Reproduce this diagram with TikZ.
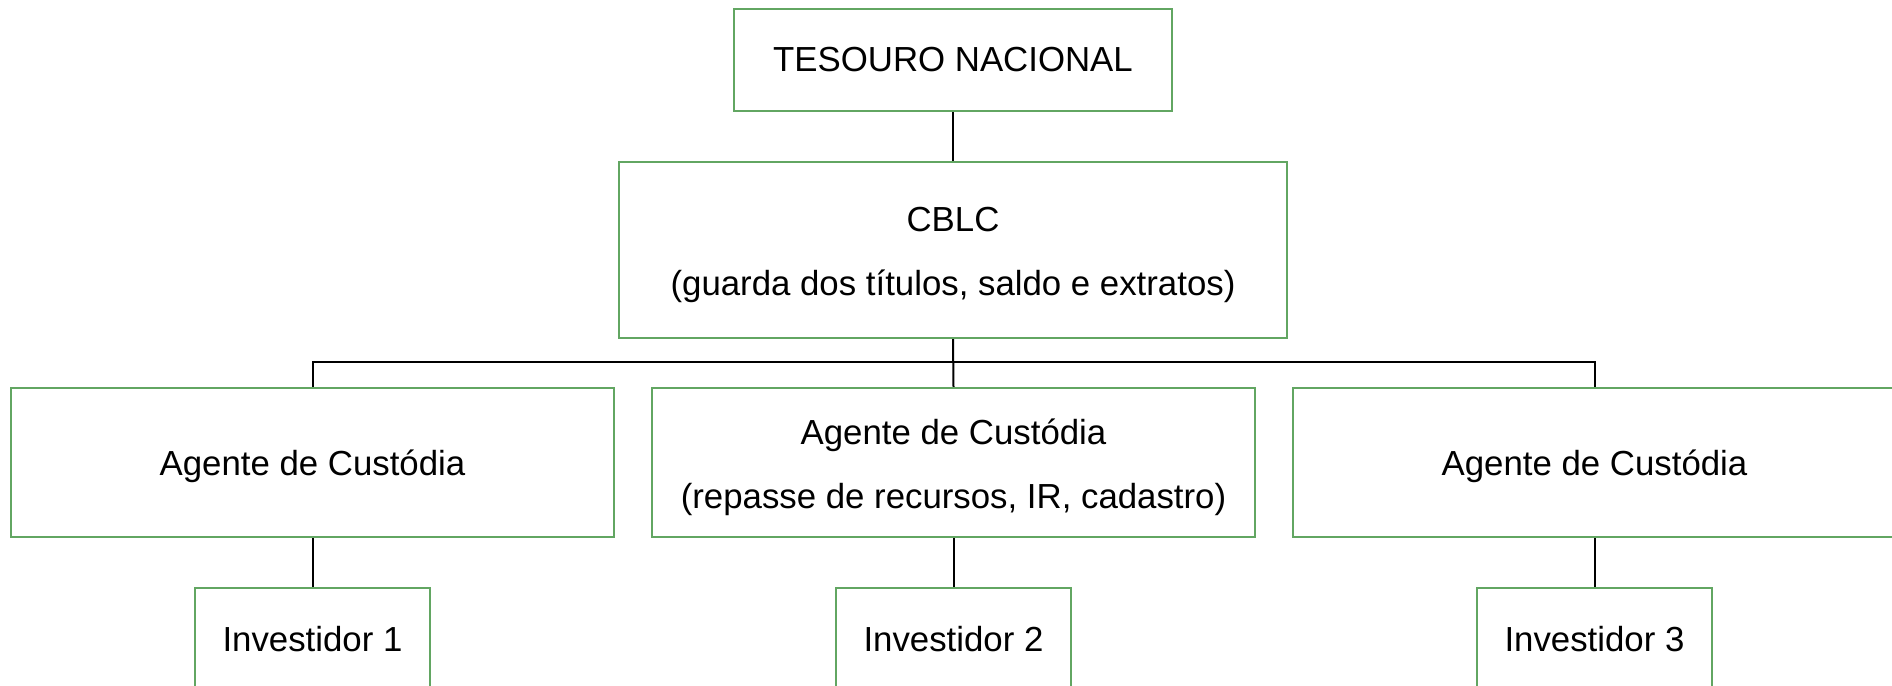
\documentclass[tikz,border=0pt]{standalone}
\usepackage{fontspec}
\setmainfont{Liberation Sans}
\definecolor{verdeborda}{RGB}{98,166,98}
\newcommand{\topo}{\rule{0pt}{1em}}

\begin{document}
\begin{tikzpicture}[x=0.5pt,y=-0.5pt,
  caixa/.style={draw=verdeborda,line width=1.2pt,inner sep=0pt,align=center,
    font=\fontsize{17.4}{32}\selectfont},
  linha/.style={text height=16.2pt,text depth=3.65pt},
  agente/.style={caixa,minimum width=301.5pt,minimum height=74.5pt},
  investidor/.style={caixa,minimum width=117.5pt,minimum height=51pt},
  liga/.style={black,line width=1pt}]

\useasboundingbox (0,0) rectangle (1892,686);
\clip (0,0) rectangle (1892,686);

\node [caixa,minimum width=219pt,minimum height=51pt] (tesouro) at (953,60) {TESOURO NACIONAL};
\node [caixa,minimum width=334pt,minimum height=88pt] (cblc) at (953,250) {\topo CBLC\\(guarda dos títulos, saldo e extratos)};

\node [agente,linha] (ag1) at (312.5,462.5) {Agente de Custódia};
\node [agente] (ag2) at (953.5,462.5) {\topo Agente de Custódia\\(repasse de recursos, IR, cadastro)};
\node [agente,linha] (ag3) at (1594.5,462.5) {Agente de Custódia};

\node [investidor] (inv1) at (312.5,639) {Investidor 1};
\node [investidor] (inv2) at (953.5,639) {Investidor 2};
\node [investidor] (inv3) at (1594.5,639) {Investidor 3};

\coordinate (barra) at (953.5,362);

\draw [liga] (tesouro.south) -- (cblc.north);
\draw [liga] (cblc.south) -- (ag2.north);
\draw [liga] (ag1.north) |- (barra) -| (ag3.north);

\draw [liga] (ag1.south) -- (inv1.north);
\draw [liga] (ag2.south) -- (inv2.north);
\draw [liga] (ag3.south) -- (inv3.north);

\end{tikzpicture}
\end{document}
